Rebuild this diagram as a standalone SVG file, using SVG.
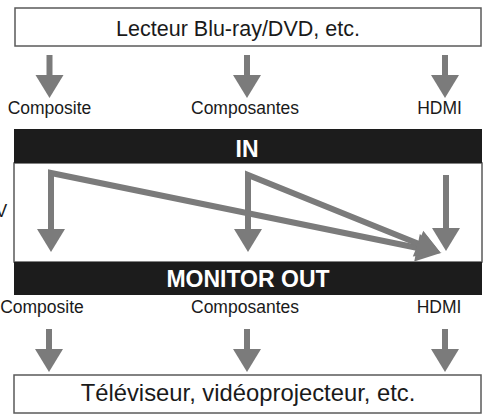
<svg xmlns="http://www.w3.org/2000/svg" width="485" height="415" viewBox="0 0 485 415">
  <style>
    .box { fill: #ffffff; stroke: #5a5a5a; stroke-width: 1.5; }
    .bar { fill: #1c1c1c; }
    .big { font-family: "Liberation Sans", Arial, sans-serif; fill: #1a1a1a; text-anchor: middle; }
    .lbl { font-family: "Liberation Sans", Arial, sans-serif; font-size: 17.5px; fill: #1a1a1a; text-anchor: middle; }
    .bt { font-family: "Liberation Sans", Arial, sans-serif; font-size: 23px; font-weight: bold; fill: #ffffff; text-anchor: middle; }
    .ln { fill: none; stroke: #7b7b7b; stroke-width: 6; stroke-linejoin: miter; }
  </style>
  <defs>
    <marker id="ah" viewBox="0 0 22 28" refX="0" refY="14" markerWidth="22" markerHeight="28" markerUnits="userSpaceOnUse" orient="auto" overflow="visible">
      <path d="M-1,0 L22,14 L-1,28 Z" fill="#7b7b7b"/>
    </marker>
    <marker id="ahd" viewBox="0 0 24 28" refX="0" refY="14" markerWidth="24" markerHeight="28" markerUnits="userSpaceOnUse" orient="auto" overflow="visible">
      <path d="M-1,0 L24,14 L-1,28 Z" fill="#7b7b7b"/>
    </marker>
    <marker id="ahw" viewBox="0 0 24 28" refX="0" refY="14" markerWidth="24" markerHeight="28" markerUnits="userSpaceOnUse" orient="auto" overflow="visible">
      <path d="M-1,0 L24,14 L-1,28 Z" fill="#7b7b7b"/>
      <path d="M0,-0.8 L24,13.2" fill="none" stroke="#ffffff" stroke-width="1.8"/>
    </marker>
  </defs>

  <g id="source">
    <rect class="box" x="15" y="8" width="466" height="38"/>
    <text class="big" x="238" y="36" font-size="21.5">Lecteur Blu-ray/DVD, etc.</text>
  </g>

  <g id="in-labels">
    <text class="lbl" x="49.5" y="114">Composite</text>
    <text class="lbl" x="245" y="114">Composantes</text>
    <text class="lbl" x="439.5" y="114">HDMI</text>
  </g>

  <g id="receiver">
    <rect class="box" x="14" y="163" width="468" height="99"/>
    <rect class="bar" x="14" y="129" width="468" height="34"/>
    <text class="bt" x="247" y="157">IN</text>
    <rect class="bar" x="14" y="262" width="468" height="33"/>
    <text class="bt" x="248" y="287">MONITOR OUT</text>
  </g>

  <g id="out-labels">
    <text class="lbl" x="42" y="313">Composite</text>
    <text class="lbl" x="245" y="313">Composantes</text>
    <text class="lbl" x="439" y="313">HDMI</text>
  </g>

  <g id="display">
    <rect class="box" x="14" y="375" width="467" height="38"/>
    <text class="big" x="248" y="401" font-size="23.8">Téléviseur, vidéoprojecteur, etc.</text>
  </g>

  <text class="lbl" x="-4.5" y="217" style="text-anchor:start">V</text>

  <g id="connectors">
    <path class="ln" d="M49.5,55 V76" marker-end="url(#ah)"/>
    <path class="ln" d="M247,55 V76" marker-end="url(#ah)"/>
    <path class="ln" d="M445,55 V76" marker-end="url(#ah)"/>

    <path class="ln" d="M51,174 V230" marker-end="url(#ah)"/>
    <path class="ln" d="M248,176 V230" marker-end="url(#ah)"/>
    <path class="ln" d="M446,175 V229" marker-end="url(#ah)"/>
    <path class="ln" d="M51,230 V173 L418,248" marker-end="url(#ahd)"/>
    <path class="ln" d="M248,230 V175 L419,244" marker-end="url(#ahw)"/>

    <path class="ln" d="M49,329 V350" marker-end="url(#ah)"/>
    <path class="ln" d="M247,329 V350" marker-end="url(#ah)"/>
    <path class="ln" d="M445,329 V350" marker-end="url(#ah)"/>
  </g>
</svg>
